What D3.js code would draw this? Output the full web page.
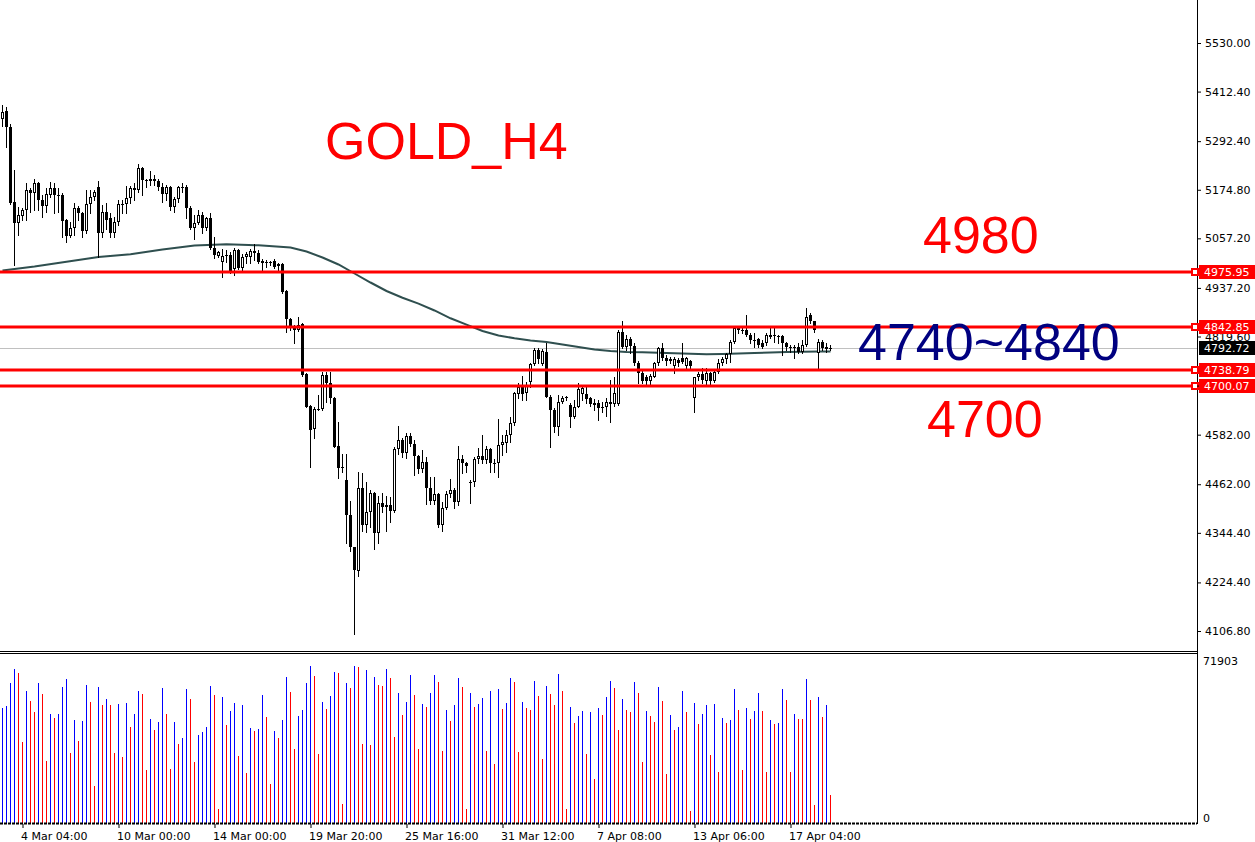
<!DOCTYPE html>
<html>
<head>
<meta charset="utf-8">
<script src="https://cdn.jsdelivr.net/npm/d3@7"></script>
<style>
body { margin: 0; background: #fff; }
svg { display: block; }
.axis text { font-family: "DejaVu Sans"; font-size: 11px; fill: #000; }
.axis line { stroke: #000; }
</style>
</head>
<body>
<svg id="chart"></svg>
<script>
// GOLD H4 candles, oldest first
const opens = [
  5345, 5365, 5326, 5144, 5094, 5112, 5126, 5174, 5166, 5190,
  5150, 5135, 5162, 5178, 5162, 5162, 5101, 5063, 5083, 5130,
  5118, 5076, 5140, 5158, 5182, 5069, 5122, 5106, 5071, 5097,
  5140, 5140, 5156, 5178, 5174, 5227, 5198, 5196, 5196, 5197,
  5181, 5165, 5181, 5132, 5152, 5180, 5182, 5130, 5083, 5095,
  5114, 5083, 5106, 5033, 5015, 4999, 5017, 5017, 4982, 5029,
  4985, 5011, 5013, 5027, 5021, 5002, 4999, 4998, 5002, 4990,
  4994, 4930, 4861, 4845, 4835, 4850, 4729, 4651, 4595, 4643,
  4643, 4727, 4706, 4670, 4555, 4501, 4472, 4388, 4309, 4253,
  4452, 4363, 4396, 4440, 4345, 4417, 4407, 4412, 4398, 4547,
  4569, 4538, 4579, 4559, 4530, 4498, 4517, 4452, 4422, 4438,
  4363, 4404, 4438, 4448, 4420, 4522, 4513, 4466, 4468, 4522,
  4531, 4521, 4547, 4514, 4513, 4557, 4563, 4581, 4610, 4681,
  4697, 4682, 4710, 4753, 4787, 4753, 4783, 4674, 4642, 4600,
  4662, 4671, 4654, 4624, 4650, 4681, 4681, 4670, 4658, 4658,
  4646, 4648, 4656, 4656, 4656, 4831, 4795, 4813, 4797, 4755,
  4732, 4722, 4713, 4722, 4755, 4791, 4767, 4765, 4747, 4763,
  4767, 4747, 4760, 4670, 4721, 4729, 4713, 4732, 4713, 4734,
  4756, 4764, 4777, 4807, 4835, 4835, 4835, 4823, 4811, 4813,
  4803, 4803, 4819, 4823, 4819, 4821, 4805, 4794, 4792, 4795,
  4783, 4799, 4872, 4856, 4779, 4807, 4794, 4790.5
]
const highs = [
  5380, 5376, 5334, 5223, 5134, 5130, 5190, 5178, 5200, 5194,
  5162, 5178, 5194, 5190, 5178, 5168, 5105, 5097, 5142, 5136,
  5122, 5174, 5174, 5174, 5197, 5138, 5142, 5118, 5110, 5150,
  5150, 5184, 5184, 5190, 5237, 5231, 5202, 5221, 5210, 5200,
  5190, 5186, 5184, 5158, 5184, 5190, 5186, 5136, 5114, 5126,
  5122, 5110, 5118, 5061, 5027, 5031, 5029, 5025, 5033, 5031,
  5019, 5025, 5031, 5044, 5029, 5007, 5005, 5003, 5007, 4997,
  4997, 4932, 4864, 4848, 4866, 4852, 4732, 4654, 4650, 4678,
  4734, 4734, 4734, 4672, 4613, 4535, 4535, 4422, 4311, 4492,
  4490, 4468, 4448, 4444, 4434, 4442, 4434, 4431, 4553, 4603,
  4573, 4587, 4585, 4569, 4533, 4545, 4527, 4479, 4479, 4440,
  4420, 4446, 4475, 4452, 4555, 4533, 4517, 4472, 4527, 4549,
  4581, 4555, 4549, 4522, 4619, 4581, 4593, 4624, 4686, 4706,
  4724, 4710, 4755, 4791, 4791, 4789, 4803, 4678, 4646, 4678,
  4676, 4676, 4658, 4666, 4706, 4700, 4698, 4674, 4668, 4666,
  4660, 4670, 4714, 4721, 4835, 4858, 4823, 4819, 4805, 4761,
  4737, 4727, 4729, 4759, 4795, 4803, 4775, 4771, 4771, 4767,
  4803, 4771, 4763, 4722, 4734, 4743, 4743, 4734, 4739, 4764,
  4769, 4780, 4811, 4843, 4843, 4843, 4872, 4827, 4829, 4815,
  4811, 4827, 4840, 4840, 4823, 4823, 4807, 4799, 4799, 4805,
  4811, 4888, 4876, 4858, 4813, 4811, 4803, 4799
]
const lows = [
  5329, 5279, 5140, 4993, 5065, 5102, 5102, 5122, 5126, 5126,
  5108, 5122, 5158, 5118, 5122, 5060, 5049, 5061, 5065, 5102,
  5061, 5069, 5118, 5150, 5013, 5061, 5081, 5061, 5060, 5089,
  5118, 5118, 5142, 5150, 5170, 5162, 5181, 5186, 5186, 5174,
  5146, 5150, 5127, 5122, 5146, 5170, 5106, 5079, 5055, 5093,
  5071, 5077, 5031, 5009, 5013, 4964, 5001, 4974, 4969, 4982,
  4981, 4997, 4997, 5005, 4997, 4977, 4989, 4993, 4985, 4981,
  4924, 4831, 4835, 4803, 4834, 4725, 4648, 4503, 4573, 4642,
  4642, 4662, 4658, 4552, 4476, 4492, 4319, 4301, 4099, 4240,
  4350, 4347, 4359, 4305, 4319, 4396, 4350, 4371, 4396, 4535,
  4527, 4525, 4555, 4484, 4489, 4492, 4414, 4414, 4414, 4359,
  4350, 4401, 4432, 4404, 4412, 4489, 4492, 4417, 4458, 4514,
  4514, 4513, 4492, 4492, 4480, 4533, 4541, 4565, 4605, 4670,
  4666, 4666, 4698, 4751, 4755, 4751, 4673, 4553, 4589, 4581,
  4658, 4666, 4600, 4622, 4648, 4666, 4658, 4651, 4642, 4618,
  4638, 4626, 4613, 4651, 4654, 4791, 4787, 4779, 4751, 4706,
  4706, 4702, 4702, 4721, 4751, 4763, 4751, 4755, 4731, 4747,
  4755, 4743, 4739, 4638, 4714, 4706, 4702, 4702, 4710, 4732,
  4751, 4755, 4759, 4803, 4827, 4827, 4821, 4803, 4795, 4795,
  4791, 4799, 4815, 4807, 4803, 4775, 4787, 4783, 4767, 4780,
  4779, 4797, 4852, 4831, 4743, 4787, 4783, 4787
]
const closes = [
  5364, 5327, 5143, 5094, 5114, 5126, 5174, 5166, 5190, 5150,
  5135, 5164, 5178, 5162, 5162, 5100, 5063, 5083, 5130, 5118,
  5076, 5140, 5158, 5170, 5069, 5122, 5102, 5071, 5097, 5140,
  5138, 5156, 5178, 5174, 5227, 5198, 5196, 5202, 5202, 5181,
  5165, 5181, 5132, 5152, 5181, 5182, 5130, 5083, 5095, 5114,
  5083, 5106, 5033, 5017, 5023, 5015, 5015, 4977, 5029, 4985,
  5011, 5019, 5027, 5021, 5001, 4997, 4998, 4999, 4989, 4995,
  4928, 4861, 4845, 4835, 4848, 4727, 4650, 4593, 4643, 4645,
  4727, 4706, 4670, 4553, 4501, 4503, 4388, 4309, 4255, 4452,
  4363, 4396, 4440, 4345, 4417, 4408, 4412, 4398, 4547, 4569,
  4538, 4579, 4559, 4530, 4498, 4517, 4452, 4422, 4438, 4363,
  4404, 4438, 4448, 4420, 4522, 4513, 4505, 4468, 4522, 4531,
  4521, 4547, 4513, 4513.5, 4557, 4565, 4581, 4610, 4682, 4697,
  4681, 4700, 4753, 4787, 4764, 4785, 4674, 4642, 4600, 4662,
  4670, 4672.5, 4624, 4650, 4693, 4694, 4668, 4656, 4654, 4646,
  4648, 4660, 4662, 4682, 4831, 4795, 4813, 4797, 4755, 4731,
  4713, 4713, 4724, 4755, 4791, 4767, 4761, 4760, 4764, 4755,
  4759, 4767, 4748, 4721, 4729, 4714, 4732, 4713, 4734, 4756,
  4764, 4777, 4807, 4840, 4840, 4834, 4823, 4811, 4810, 4799,
  4795, 4823, 4823, 4822, 4822, 4805, 4794, 4791, 4793, 4783,
  4799, 4868, 4856, 4835, 4807, 4791, 4789, 4792.72
]
const volumes = [
  52800, 53600, 64100, 70500, 68700, 37100, 60500, 55900, 50800, 64100,
  59200, 28400, 49900, 48100, 49900, 62300, 66000, 31900, 47200, 37600,
  46700, 63200, 55400, 16900, 62300, 54000, 56800, 54000, 32100, 54500,
  30200, 55000, 44000, 49900, 60500, 59100, 24300, 47600, 42600, 46300,
  61800, 49900, 24700, 46300, 36200, 38900, 61400, 56800, 27900, 40300,
  41700, 44000, 62700, 58600, 6400, 57700, 44900, 51300, 55000, 30700,
  54000, 22900, 43500, 42100, 43100, 58600, 48500, 17900, 42100, 38900,
  47200, 66900, 60000, 33900, 49000, 51800, 64100, 71900, 67300, 31600,
  55400, 52200, 58200, 69200, 68700, 8700, 64100, 61800, 71903, 71400,
  36200, 70100, 35700, 66900, 63200, 62700, 70500, 66400, 39400, 59500,
  49500, 55400, 67800, 58600, 33900, 54500, 53100, 59500, 67800, 64600,
  33000, 51800, 46700, 54000, 66400, 62300, 6400, 59500, 53100, 54500,
  57300, 33000, 60500, 27000, 61400, 52200, 55000, 66400, 64600, 32500,
  55400, 52700, 51800, 65000, 58200, 29300, 62700, 59100, 54000, 68200,
  60500, 6400, 53100, 45800, 49000, 51300, 31600, 50800, 20200, 52700,
  49500, 57700, 65000, 61800, 42600, 56800, 51800, 50800, 64600, 59500,
  27900, 51300, 49000, 46300, 62300, 55900, 22400, 49500, 42600, 44000,
  60500, 50800, 5500, 55000, 45300, 49900, 54000, 31100, 54500, 23400,
  48100, 45800, 47200, 61400, 51800, 24300, 52700, 47600, 51300, 59500,
  51300, 23400, 47200, 45300, 45800, 61400, 56300, 23400, 49900, 47600,
  47500, 66000, 56300, 8200, 57700, 48500, 54000, 12800
]

// moving average, read at every few bars
const maIdx = [0, 8, 16, 24, 32, 40, 48, 56, 64, 72, 76, 80, 84, 88, 92, 96, 100, 104, 108, 112, 116,
  120, 124, 128, 132, 136, 140, 144, 148, 152, 156, 160, 164, 168, 172, 176, 180, 184, 188, 192, 196, 200, 204, 207]
const maVal = [4979.4, 4988.8, 5000.4, 5012.1, 5018.8, 5030.2, 5039.9, 5042.8, 5040.4, 5035.1, 5025.4, 5010.8,
  4993.9, 4972.1, 4950.3, 4929.8, 4913.3, 4899.3, 4882.6, 4863.7, 4848.4, 4832.9, 4822.1, 4815.3, 4810.0,
  4806.3, 4800.3, 4794.2, 4788.2, 4784.5, 4782.1, 4781.4, 4780.2, 4779.0, 4777.8, 4776.8, 4777.3, 4778.3,
  4779.7, 4780.9, 4782.1, 4782.9, 4783.3, 4783.3]

const levels = [4975.95, 4842.85, 4738.79, 4700.07]
const bidPrice = 4792.72
const priceTicks = [5530.00, 5412.40, 5292.40, 5174.80, 5057.20, 4937.20, 4819.60, 4700.80, 4582.00, 4462.00, 4344.40, 4224.40, 4106.80]
const volTicks = [0, 71903]
const timeTickIdx = [5, 29, 53, 77, 101, 125, 149, 173, 197]
const timeTickLabels = ['4 Mar 04:00', '10 Mar 00:00', '14 Mar 00:00', '19 Mar 20:00', '25 Mar 16:00',
  '31 Mar 12:00', '7 Apr 08:00', '13 Apr 06:00', '17 Apr 04:00']

const W = 1255
const H = 842
const axisX = 1197
const volBase = 823

const svg = d3.select('#chart').attr('width', W).attr('height', H)

const x = d3.scaleLinear().domain([0, 1]).range([2.5, 6.5])
const y = d3.scaleLinear().domain([4106.8, 5530]).range([631, 43])
const yVol = d3.scaleLinear().domain([0, 71903]).range([volBase, 666])

const bars = opens.map((o, i) => ({
  i: i, o: o, h: highs[i], l: lows[i], c: closes[i], v: volumes[i],
  rising: i === 0 || volumes[i] > volumes[i - 1]
}))

// pane borders
svg.append('line').attr('x1', 0).attr('x2', axisX).attr('y1', 651.5).attr('y2', 651.5).attr('stroke', '#000')
svg.append('line').attr('x1', 0).attr('x2', axisX).attr('y1', 653.5).attr('y2', 653.5).attr('stroke', '#000')
svg.append('line').attr('x1', axisX + 0.5).attr('x2', axisX + 0.5).attr('y1', 0).attr('y2', volBase + 1).attr('stroke', '#000')

// bid line
svg.append('line')
  .attr('x1', 0).attr('x2', axisX)
  .attr('y1', Math.round(y(bidPrice)) + 0.5).attr('y2', Math.round(y(bidPrice)) + 0.5)
  .attr('stroke', '#c0c0c0')

// moving average
svg.append('path')
  .datum(maIdx.map((d, k) => [d, maVal[k]]))
  .attr('fill', 'none')
  .attr('stroke', '#2f4f4f')
  .attr('stroke-width', 2)
  .attr('d', d3.line().x(d => x(d[0])).y(d => y(d[1])))

// candles
const candle = svg.append('g')
candle.selectAll('line.wick')
  .data(bars)
  .enter()
  .append('line')
  .attr('class', 'wick')
  .attr('x1', d => x(d.i)).attr('x2', d => x(d.i))
  .attr('y1', d => Math.round(y(d.h))).attr('y2', d => Math.round(y(d.l)) + 1)
  .attr('stroke', '#000')

candle.selectAll('rect.body')
  .data(bars)
  .enter()
  .append('rect')
  .attr('class', 'body')
  .each(function (d) {
    const top = Math.round(y(Math.max(d.o, d.c)))
    const bot = Math.round(y(Math.min(d.o, d.c)))
    const r = d3.select(this)
    if (d.c > d.o && bot - top >= 2) {
      r.attr('x', x(d.i) - 1).attr('y', top + 0.5).attr('width', 2).attr('height', bot - top - 1)
        .attr('fill', '#fff').attr('stroke', '#000')
    } else {
      r.attr('x', x(d.i) - 1.5).attr('y', top).attr('width', 3).attr('height', Math.max(1, bot - top))
        .attr('fill', '#000')
    }
  })

// level lines
levels.forEach(lv => {
  const ly = Math.round(y(lv))
  svg.append('rect').attr('x', 0).attr('y', ly - 1.5).attr('width', axisX).attr('height', 3).attr('fill', '#ff0000')
  svg.append('rect').attr('x', axisX - 5).attr('y', ly - 3).attr('width', 6).attr('height', 6)
    .attr('fill', '#fff').attr('stroke', '#ff0000').attr('stroke-width', 2)
})

// volumes
svg.append('g').selectAll('line')
  .data(bars)
  .enter()
  .append('line')
  .attr('x1', d => x(d.i)).attr('x2', d => x(d.i))
  .attr('y1', volBase).attr('y2', d => Math.round(yVol(d.v)))
  .attr('stroke', d => d.rising ? '#0000ff' : '#ff0000')

svg.append('line')
  .attr('x1', 0).attr('x2', axisX)
  .attr('y1', volBase + 0.5).attr('y2', volBase + 0.5)
  .attr('stroke', '#000').attr('stroke-width', 2).attr('stroke-dasharray', '3,1')

// price axis
svg.append('g')
  .attr('class', 'axis')
  .attr('transform', `translate(${axisX},0)`)
  .call(d3.axisRight(y).tickValues(priceTicks).tickSize(4).tickPadding(4).tickFormat(d3.format('.2f')))
  .call(g => g.select('.domain').remove())

// volume axis
svg.append('g')
  .attr('class', 'axis')
  .attr('transform', `translate(${axisX},0)`)
  .call(d3.axisRight(yVol).tickValues(volTicks).tickSize(0).tickPadding(6).tickFormat(d3.format('d')))
  .call(g => g.select('.domain').remove())
  .call(g => g.selectAll('text').attr('y', -5))

// time axis
svg.append('g')
  .attr('class', 'axis')
  .attr('transform', `translate(0,${volBase + 1})`)
  .call(d3.axisBottom(x).tickValues(timeTickIdx).tickSize(4).tickPadding(4).tickFormat((d, k) => timeTickLabels[k]))
  .call(g => g.select('.domain').remove())
  .call(g => g.selectAll('text').attr('text-anchor', 'start').attr('x', -2))

// price labels at the right edge
const tag = (price, fill) => {
  const ly = Math.round(y(price))
  svg.append('rect').attr('x', axisX + 2).attr('y', ly - 7).attr('width', W - axisX - 2).attr('height', 14).attr('fill', fill)
  svg.append('text')
    .attr('x', axisX + 7).attr('y', ly).attr('dy', '0.36em')
    .attr('font-family', 'DejaVu Sans').attr('font-size', 11).attr('fill', '#fff')
    .text(price.toFixed(2))
}
levels.forEach(lv => tag(lv, '#ff0000'))
tag(bidPrice, '#000')

// annotations
const note = (txt, tx, ty, color) => svg.append('text')
  .attr('x', tx).attr('y', ty)
  .attr('font-family', 'Liberation Sans, Arial, sans-serif').attr('font-size', 52)
  .attr('fill', color)
  .text(txt)
note('GOLD_H4', 325, 159, '#ff0000')
note('4980', 923, 253, '#ff0000')
note('4740~4840', 858, 360, '#000080')
note('4700', 927, 437, '#ff0000')
</script>
</body>
</html>
